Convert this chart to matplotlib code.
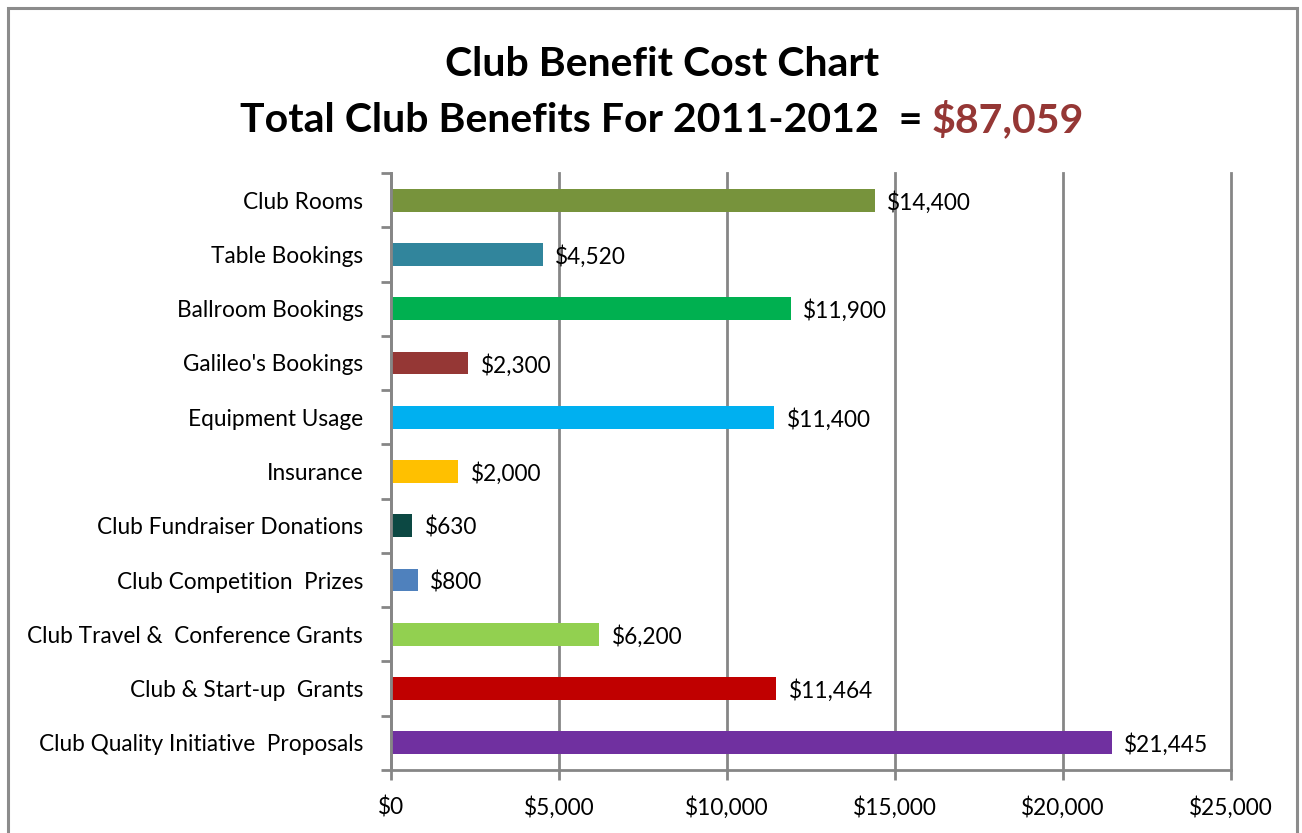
import matplotlib
matplotlib.use("Agg")
import matplotlib.pyplot as plt
from matplotlib.patches import Rectangle

categories = ["Club Rooms", "Table Bookings", "Ballroom Bookings", "Galileo's Bookings",
              "Equipment Usage", "Insurance", "Club Fundraiser Donations",
              "Club Competition  Prizes", "Club Travel &  Conference Grants",
              "Club & Start-up  Grants", "Club Quality Initiative  Proposals"]
values = [14400, 4520, 11900, 2300, 11400, 2000, 630, 800, 6200, 11464, 21445]
colors = ["#77933C", "#31859C", "#00B050", "#953735", "#00B0F0", "#FFC000",
          "#0C4843", "#4F81BD", "#92D050", "#C00000", "#7030A0"]
xticks = [0, 5000, 10000, 15000, 20000, 25000]
title1 = "Club Benefit Cost Chart"
title2a = "Total Club Benefits For 2011-2012  = "
title2b = "$87,059"

plt.rcParams['font.family'] = ['Lato', 'DejaVu Sans']
GRAY = "#868686"
FS = 16.3

fig = plt.figure(figsize=(13.02, 8.33), dpi=100)
W, H = 1302, 833
ax = fig.add_axes([391/W, 1-770/H, (1231-391)/W, (770-173)/H])

n = len(categories)
ypos = list(range(n))[::-1]
ax.barh(ypos, values, height=0.42, color=colors, zorder=3)
for y, v in zip(ypos, values):
    ax.annotate(f"${v:,}", (v, y), xytext=(9, -1.5), textcoords="offset points",
                ha="left", va="center", fontsize=FS, color="black", zorder=4)

ax.set_xlim(0, 25000)
ax.set_ylim(-0.5, n - 0.5)
ax.set_xticks(xticks)
ax.set_xticklabels([f"${t:,}" for t in xticks], fontsize=FS)
ax.set_yticks([i + 0.5 for i in range(-1, n)])
ax.set_yticklabels([])
ax.set_yticks(ypos, minor=True)
ax.set_yticklabels(categories, minor=True, fontsize=FS)
ax.tick_params(axis="y", which="minor", length=0, pad=20)
ax.tick_params(axis="y", which="major", length=7, width=2, color=GRAY, direction="out")
ax.tick_params(axis="x", which="major", length=7, width=2, color=GRAY, pad=12)

ax.grid(axis="x", color=GRAY, linewidth=2, zorder=0)
for gl in ax.get_xgridlines():
    gl.set_clip_on(False)
for s in ["top", "right"]:
    ax.spines[s].set_visible(False)
for s in ["left", "bottom"]:
    ax.spines[s].set_color(GRAY)
    ax.spines[s].set_linewidth(2)
    ax.spines[s].set_zorder(5)

# outer frame
fig.patches.append(Rectangle((8/W, -0.01), (1297-8)/W, 1-8/H + 0.01, transform=fig.transFigure,
                             fill=False, edgecolor="#8C8C8C", linewidth=2.2))

TS = 29.5
fig.text(662/W, 1-64/H, title1, ha="center", va="center", fontsize=TS, fontweight="bold")
fig.canvas.draw()
r = fig.canvas.get_renderer()
ta = fig.text(0, 1-120/H, title2a, ha="left", va="center", fontsize=TS, fontweight="bold")
tb = fig.text(0, 1-120/H, title2b, ha="left", va="center", fontsize=TS, fontweight="bold", color="#953735")
wa = ta.get_window_extent(r).width
wb = tb.get_window_extent(r).width
x0 = 662 - (wa + wb) / 2
ta.set_x(x0 / W)
tb.set_x((x0 + wa) / W)

fig.savefig("out.png", dpi=100)
